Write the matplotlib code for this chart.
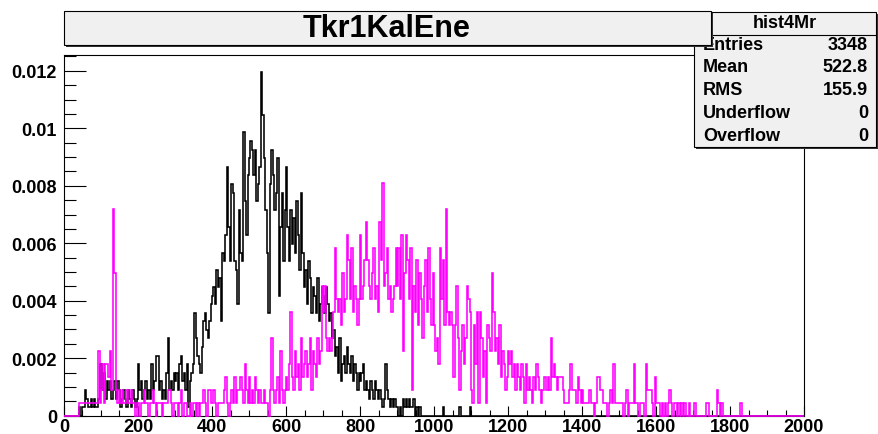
import numpy as np
import matplotlib
matplotlib.use("Agg")
import matplotlib.pyplot as plt
from matplotlib.patches import Rectangle
from matplotlib.lines import Line2D

plt.rcParams['font.family'] = ['Liberation Sans', 'DejaVu Sans']
plt.rcParams['font.weight'] = 'bold'

W, H = 879, 435

# histogram binning: 500 bins of width 4 from 0 to 2000
edges = np.arange(0, 2004, 4)

# bin contents in entries, 25 bins per block of 100 units
black_blocks = [
    [0, 0, 0, 0, 0, 0, 0, 0, 0, 0, 1, 0, 1, 1, 3, 2, 1, 1, 2, 1, 2, 1, 1, 2, 6],
    [6, 3, 5, 2, 4, 3, 4, 2, 3, 4, 2, 4, 3, 1, 2, 3, 2, 1, 3, 2, 1, 3, 2, 1, 2],
    [6, 3, 4, 2, 3, 4, 2, 3, 2, 6, 3, 4, 7, 7, 3, 4, 2, 3, 2, 5, 9, 3, 4, 3, 5],
    [4, 5, 3, 6, 7, 4, 5, 3, 6, 1, 4, 5, 6, 12, 9, 7, 6, 5, 8, 11, 12, 10, 9, 11, 13],
    [14, 15, 13, 17, 15, 16, 11, 19, 18, 21, 29, 22, 18, 27, 26, 18, 17, 13, 24, 19, 18, 33, 25, 21, 28],
    [30, 32, 31, 28, 31, 25, 27, 29, 40, 35, 30, 24, 19, 12, 27, 31, 28, 24, 26, 30, 14, 22, 26, 18, 24],
    [29, 22, 18, 24, 20, 23, 19, 25, 21, 17, 26, 19, 15, 17, 13, 18, 16, 12, 15, 14, 12, 16, 11, 13, 15],
    [14, 12, 15, 13, 11, 12, 9, 10, 7, 8, 5, 9, 4, 6, 7, 5, 8, 6, 5, 7, 4, 6, 5, 3, 5],
    [4, 5, 6, 3, 4, 3, 2, 4, 3, 2, 4, 3, 2, 3, 2, 1, 2, 6, 3, 2, 1, 2, 1, 2, 1],
    [1, 0, 1, 0, 2, 1, 2, 1, 2, 1, 1, 2, 0, 1, 0, 1, 0, 0, 0, 0, 0, 0, 0, 0, 0],
    [0, 0, 0, 0, 0, 0, 1, 0, 0, 0, 0, 0, 0, 0, 0, 0, 0, 1, 0, 0, 0, 0, 0, 0, 1],
]
magenta_blocks = [
    [0, 0, 0, 0, 0, 0, 0, 0, 0, 0, 1, 1, 1, 1, 1, 1, 1, 1, 1, 1, 1, 1, 1, 5, 1],
    [2, 4, 1, 4, 4, 3, 5, 2, 16, 11, 2, 1, 2, 1, 2, 1, 1, 2, 1, 1, 2, 1, 1, 0, 1],
    [1, 0, 1, 1, 2, 1, 1, 0, 1, 1, 2, 1, 0, 1, 1, 1, 0, 1, 1, 1, 2, 2, 1, 0, 1],
    [1, 1, 0, 1, 2, 0, 1, 1, 0, 0, 1, 0, 1, 1, 0, 1, 0, 1, 1, 2, 1, 0, 2, 2, 1],
    [1, 2, 1, 0, 1, 1, 1, 1, 2, 3, 1, 0, 1, 2, 1, 3, 1, 2, 2, 3, 2, 1, 4, 2, 1],
    [3, 1, 2, 1, 3, 2, 1, 2, 1, 1, 2, 1, 1, 0, 2, 6, 2, 1, 2, 3, 1, 5, 2, 1, 2],
    [3, 2, 4, 8, 3, 2, 5, 3, 4, 2, 6, 3, 4, 5, 3, 4, 6, 2, 5, 4, 3, 6, 4, 5, 10],
    [8, 10, 6, 5, 6, 5, 6, 8, 13, 9, 8, 9, 7, 11, 8, 9, 14, 12, 9, 13, 8, 10, 9, 7, 9],
    [14, 9, 10, 12, 15, 12, 10, 9, 11, 13, 9, 10, 8, 15, 12, 18, 10, 11, 13, 9, 10, 8, 9, 10, 13],
    [10, 13, 9, 14, 5, 11, 14, 12, 9, 13, 2, 10, 8, 12, 7, 11, 9, 6, 10, 12, 8, 13, 9, 7, 11],
    [7, 5, 6, 4, 13, 9, 12, 7, 16, 8, 7, 8, 7, 3, 7, 10, 6, 2, 5, 7, 4, 6, 10, 9, 8],
    [2, 1, 7, 4, 8, 1, 8, 6, 3, 5, 1, 7, 6, 5, 11, 8, 5, 6, 4, 7, 3, 5, 4, 2, 3],
    [5, 4, 5, 3, 4, 2, 4, 3, 2, 4, 3, 1, 4, 2, 3, 2, 1, 3, 2, 4, 3, 2, 1, 2, 3],
    [3, 2, 3, 2, 6, 3, 4, 3, 2, 3, 3, 3, 2, 1, 1, 1, 2, 4, 2, 2, 2, 1, 3, 2, 1],
    [2, 1, 1, 1, 1, 2, 1, 1, 0, 1, 3, 3, 2, 2, 1, 1, 1, 0, 1, 2, 1, 4, 1, 1, 1],
    [1, 1, 1, 0, 1, 2, 0, 1, 1, 1, 4, 1, 1, 0, 1, 1, 1, 0, 4, 2, 2, 2, 1, 0, 3],
    [1, 1, 1, 0, 1, 0, 1, 0, 1, 2, 1, 0, 1, 1, 0, 1, 0, 1, 0, 1, 0, 0, 1, 0, 0],
    [0, 1, 0, 0, 0, 0, 0, 0, 0, 1, 1, 0, 0, 0, 0, 0, 2, 1, 0, 1, 0, 0, 0, 0, 0],
    [0, 0, 0, 0, 0, 0, 0, 1, 0, 0, 0, 0, 0, 0, 0, 0, 0, 0, 0, 0, 0, 0, 0, 0, 0],
]
black_norm = 1 / 3348.
magenta_norm = 0.00045

stats_labels = ["Entries", "Mean", "RMS", "Underflow", "Overflow"]
stats_values = ["3348", "522.8", "155.9", "0", "0"]
ytick_vals = [0, 0.002, 0.004, 0.006, 0.008, 0.010, 0.012]
ytick_labels = ["0", "0.002", "0.004", "0.006", "0.008", "0.01", "0.012"]
xtick_vals = list(range(0, 2001, 200))


def to_hist(blocks):
    c = np.zeros(len(edges) - 1)
    flat = np.concatenate(blocks)
    c[:len(flat)] = flat
    return c


black = to_hist(black_blocks) * black_norm
magenta = to_hist(magenta_blocks) * magenta_norm


def fx(px):
    return px / W


def fy(py):
    return 1 - py / H


fig = plt.figure(figsize=(W / 100, H / 100), dpi=100)
ax = fig.add_axes([fx(64), fy(416.7), (804 - 64) / W, (416.7 - 56) / H])

ax.stairs(black, edges, color="black", lw=1.15, zorder=2)
ax.stairs(magenta, edges, color="#ff00ff", lw=1.15, zorder=3, clip_on=False)

ax.set_xlim(0, 2000)
ax.set_ylim(0, 0.01255)
ax.set_xticks(xtick_vals)
ax.set_xticklabels([str(v) for v in xtick_vals])
ax.set_xticks(np.arange(0, 2001, 50), minor=True)
ax.set_yticks(ytick_vals)
ax.set_yticklabels(ytick_labels)
ax.set_yticks(np.arange(0, 0.0126, 0.0005), minor=True)
ax.tick_params(axis="x", which="major", direction="in", length=7, width=0.8,
               labelsize=13, pad=2)
ax.tick_params(axis="x", which="minor", direction="in", length=4, width=0.8)
ax.tick_params(axis="y", which="major", direction="in", length=16, width=0.8,
               labelsize=13, pad=5)
ax.tick_params(axis="y", which="minor", direction="in", length=8.5, width=0.8)
for s in ax.spines.values():
    s.set_linewidth(0.8)
    s.set_zorder(2.5)


def pave(x0, y0, x1, y1, z):
    # ROOT-like box with a shadow on the right and bottom
    fig.add_artist(Rectangle((fx(x0 + 2), fy(y1 + 2)), (x1 - x0) / W, (y1 - y0) / H,
                             transform=fig.transFigure, facecolor="#333333",
                             edgecolor="none", zorder=z))
    fig.add_artist(Rectangle((fx(x0), fy(y1)), (x1 - x0) / W, (y1 - y0) / H,
                             transform=fig.transFigure, facecolor="#f0f0f0",
                             edgecolor="black", lw=0.8, zorder=z + 0.1))


# stats box
pave(694, 13, 876, 148, 5)
fig.add_artist(Line2D([fx(694), fx(876)], [fy(36), fy(36)], color="black", lw=0.8,
                      transform=fig.transFigure, zorder=5.2))
fig.text(fx(785), fy(24), "hist4Mr", ha="center", va="center", fontsize=13,
         zorder=5.3)
for i, (lab, val) in enumerate(zip(stats_labels, stats_values)):
    yy = 45 + i * 22.8
    fig.text(fx(703), fy(yy), lab, ha="left", va="center", fontsize=13, zorder=5.3)
    fig.text(fx(868), fy(yy), val, ha="right", va="center", fontsize=13, zorder=5.3)

# title box
pave(64, 12, 711, 46, 6)
fig.text(fx(387), fy(29), "Tkr1KalEne", ha="center", va="center", fontsize=22,
         zorder=6.3)

fig.savefig("out.png", dpi=100)
